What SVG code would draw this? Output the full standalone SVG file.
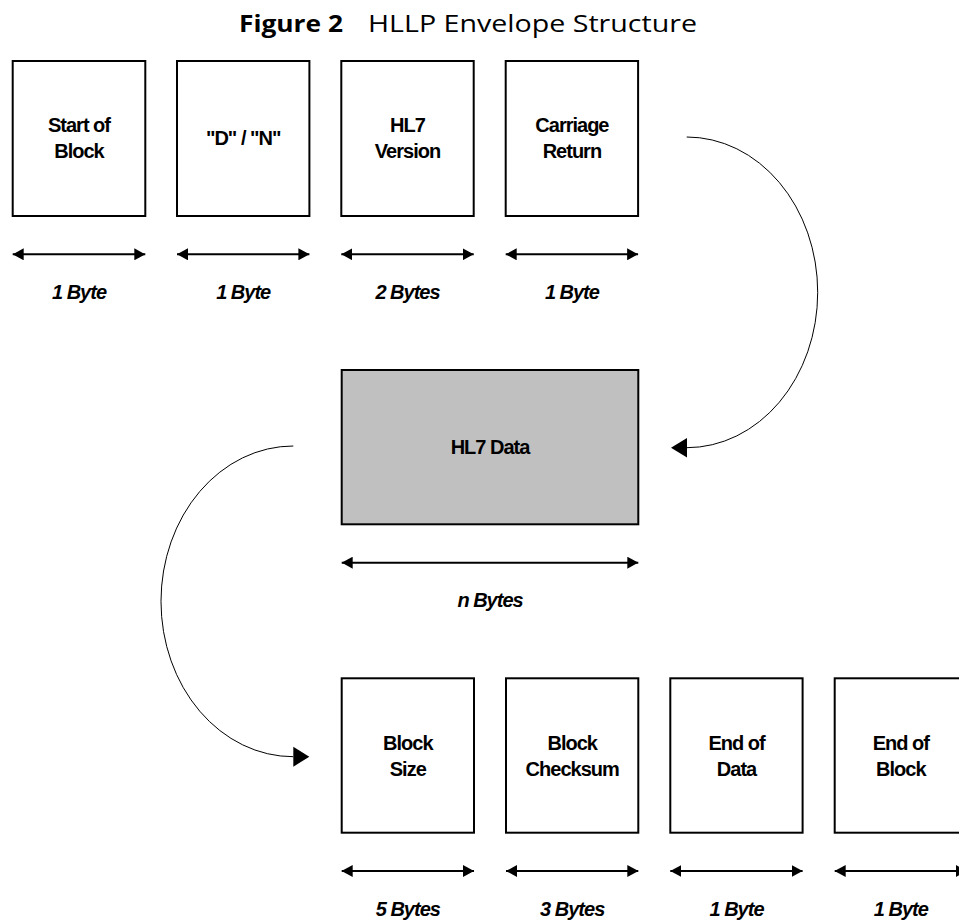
<svg xmlns="http://www.w3.org/2000/svg" width="959" height="920" viewBox="0 0 959 920">
<defs>
<style>
.bg{fill:#ffffff}
.box{fill:#ffffff;stroke:#000000;stroke-width:2}
.data{fill:#c0c0c0;stroke:#000000;stroke-width:2}
.t{font-family:"Liberation Sans",Arial,sans-serif;font-weight:bold;font-size:20px;letter-spacing:-1px;fill:#000000;text-anchor:middle}
.lbl{font-family:"Liberation Sans",Arial,sans-serif;font-weight:bold;font-style:italic;font-size:20px;letter-spacing:-1px;fill:#000000;text-anchor:middle}
.title{font-family:"Open Sans","Noto Sans",sans-serif;font-size:24px;fill:#000000}
.dim{fill:none;stroke:#000000;stroke-width:2}
.curve{fill:none;stroke:#000000;stroke-width:1}
.head{fill:#000000}
</style>
<marker id="dh" viewBox="0 0 11 12" refX="11" refY="6" markerWidth="11" markerHeight="12" markerUnits="userSpaceOnUse" orient="auto-start-reverse">
<path d="M0,0 L11,6 L0,12 Z" fill="#000000"/>
</marker>
</defs>
<rect class="bg" x="0" y="0" width="959" height="920"/>

<g id="title">
<text class="title" y="32"><tspan x="239" font-weight="bold" textLength="104" lengthAdjust="spacingAndGlyphs">Figure 2</tspan><tspan x="368" textLength="329" lengthAdjust="spacingAndGlyphs">HLLP Envelope Structure</tspan></text>
</g>

<g id="start-of-block">
<rect class="box" x="12.7" y="61" width="132.6" height="155"/>
<text class="t" x="79" y="132.3">Start of</text>
<text class="t" x="79" y="158.3">Block</text>
</g>
<g id="d-n">
<rect class="box" x="177" y="61" width="132.4" height="155"/>
<text class="t" x="243.2" y="145.3">"D" / "N"</text>
</g>
<g id="hl7-version">
<rect class="box" x="341.3" y="61" width="132.4" height="155"/>
<text class="t" x="407.5" y="132.3">HL7</text>
<text class="t" x="407.5" y="158.3">Version</text>
</g>
<g id="carriage-return">
<rect class="box" x="505.7" y="61" width="132.4" height="155"/>
<text class="t" x="571.9" y="132.3">Carriage</text>
<text class="t" x="571.9" y="158.3">Return</text>
</g>

<g id="hl7-data">
<rect class="data" x="341.7" y="370" width="296.6" height="154.3"/>
<text class="t" x="490" y="454">HL7 Data</text>
</g>

<g id="block-size">
<rect class="box" x="341.7" y="678.3" width="132.3" height="154.4"/>
<text class="t" x="407.8" y="749.5">Block</text>
<text class="t" x="407.8" y="775.5">Size</text>
</g>
<g id="block-checksum">
<rect class="box" x="506" y="678.3" width="132.3" height="154.4"/>
<text class="t" x="572.2" y="749.5">Block</text>
<text class="t" x="572.2" y="775.5">Checksum</text>
</g>
<g id="end-of-data">
<rect class="box" x="670.3" y="678.3" width="132.3" height="154.4"/>
<text class="t" x="736.5" y="749.5">End of</text>
<text class="t" x="736.5" y="775.5">Data</text>
</g>
<g id="end-of-block">
<rect class="box" x="834.7" y="678.3" width="132.3" height="154.4"/>
<text class="t" x="900.8" y="749.5">End of</text>
<text class="t" x="900.8" y="775.5">Block</text>
</g>

<g id="size-labels">
<text class="lbl" x="79" y="299">1 Byte</text>
<text class="lbl" x="243.2" y="299">1 Byte</text>
<text class="lbl" x="407.5" y="299">2 Bytes</text>
<text class="lbl" x="571.9" y="299">1 Byte</text>
<text class="lbl" x="490" y="606.7">n Bytes</text>
<text class="lbl" x="407.8" y="915.5">5 Bytes</text>
<text class="lbl" x="572.2" y="915.5">3 Bytes</text>
<text class="lbl" x="736.5" y="915.5">1 Byte</text>
<text class="lbl" x="900.8" y="915.5">1 Byte</text>
</g>

<g id="connectors">
<path class="dim" d="M12.7,254.3 H145.3" marker-start="url(#dh)" marker-end="url(#dh)"/>
<path class="dim" d="M177,254.3 H309.4" marker-start="url(#dh)" marker-end="url(#dh)"/>
<path class="dim" d="M341.3,254.3 H473.7" marker-start="url(#dh)" marker-end="url(#dh)"/>
<path class="dim" d="M505.7,254.3 H638.1" marker-start="url(#dh)" marker-end="url(#dh)"/>
<path class="dim" d="M341.7,562.7 H638.3" marker-start="url(#dh)" marker-end="url(#dh)"/>
<path class="dim" d="M341.7,871 H474" marker-start="url(#dh)" marker-end="url(#dh)"/>
<path class="dim" d="M506,871 H638.3" marker-start="url(#dh)" marker-end="url(#dh)"/>
<path class="dim" d="M670.3,871 H802.6" marker-start="url(#dh)" marker-end="url(#dh)"/>
<path class="dim" d="M834.7,871 H967" marker-start="url(#dh)" marker-end="url(#dh)"/>

<path class="curve" d="M686.7,137 A131,155.35 0 0 1 686.7,447.7"/>
<polygon class="head" points="671,447.7 687,438 687,457.5"/>
<path class="curve" d="M293.3,446 A132.3,155.35 0 0 0 293.3,756.7"/>
<polygon class="head" points="309.3,756.7 293.3,746.7 293.3,766.7"/>
</g>
</svg>
